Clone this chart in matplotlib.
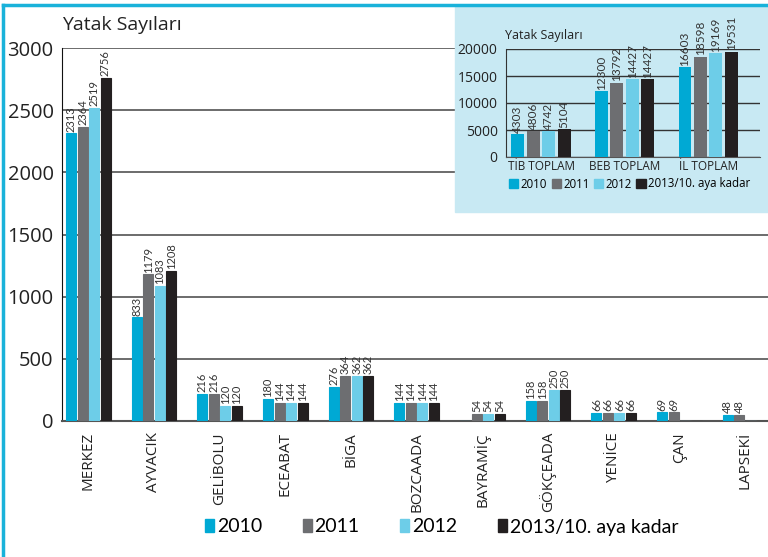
import matplotlib
matplotlib.use('Agg')
import matplotlib.pyplot as plt
from matplotlib import font_manager
from matplotlib.patches import Rectangle
from matplotlib.lines import Line2D
import numpy as np

# main chart data
districts = ['MERKEZ', 'AYVACIK', 'GELİBOLU', 'ECEABAT', 'BİGA', 'BOZCAADA',
             'BAYRAMİÇ', 'GÖKÇEADA', 'YENİCE', 'ÇAN', 'LAPSEKİ']
beds_2010 = [2313, 833, 216, 180, 276, 144, 0, 158, 66, 69, 48]
beds_2011 = [2364, 1179, 216, 144, 364, 144, 54, 158, 66, 69, 48]
beds_2012 = [2519, 1083, 120, 144, 362, 144, 54, 250, 66, 0, 0]
beds_2013 = [2756, 1208, 120, 144, 362, 144, 54, 250, 66, 0, 0]

# inset data
totals = ['TİB TOPLAM', 'BEB TOPLAM', 'İL TOPLAM']
tot_2010 = [4303, 12300, 16603]
tot_2011 = [4806, 13792, 18598]
tot_2012 = [4742, 14427, 19169]
tot_2013 = [5104, 14427, 19531]

years = ['2010', '2011', '2012', '2013/10. aya kadar']
colors = ['#00a9d4', '#6d6e71', '#6dcde8', '#231f20']

names = set(f.name for f in font_manager.fontManager.ttflist)
narrow = 'Lato' if 'Lato' in names else 'DejaVu Sans'
plain = 'Open Sans' if 'Open Sans' in names else 'DejaVu Sans'
plt.rcParams['font.family'] = [plain, 'DejaVu Sans']

fig = plt.figure(figsize=(7.68, 5.57), dpi=100)

# frame lines and inset background
fig.add_artist(Line2D([3/768, 3/768], [0, 1 - 5/557], color='#19b2da', lw=2.5,
                      transform=fig.transFigure, zorder=5))
fig.add_artist(Line2D([3/768, 1], [1 - 5/557, 1 - 5/557], color='#19b2da', lw=2.5,
                      transform=fig.transFigure, zorder=5))
fig.add_artist(Rectangle((455/768, 1 - 212/557), 1 - 455/768, (212 - 6)/557,
                         color='#c8e9f3', transform=fig.transFigure, zorder=1))

# ---- main chart ----
ax = fig.add_axes([62/768, 1 - 421/557, 1 - 62/768, (421 - 48)/557], zorder=0)
ax.set_facecolor('none')
x = np.arange(len(districts))
series = [beds_2010, beds_2011, beds_2012, beds_2013]
pitch = 0.175
w = 0.152
for i, vals in enumerate(series):
    xs = x + (i - 1.5) * pitch
    ax.bar(xs, vals, width=w, color=colors[i], edgecolor=colors[i], lw=0.8, zorder=3)
    for xx, v in zip(xs, vals):
        if v > 0:
            ax.text(xx, v + 15, str(v), rotation=90, ha='center', va='bottom',
                    fontsize=8, color='#333333', family=[narrow, 'DejaVu Sans'], zorder=4)
ax.set_ylim(0, 3000)
ax.set_xlim(-0.4, 10.35)
ax.set_yticks(range(0, 3001, 500))
ax.yaxis.grid(True, color='#444444', lw=1.1, zorder=1)
ax.set_xticks(x)
ax.set_xticklabels(districts, rotation=90)
ax.tick_params(axis='both', length=0, colors='#222222')
ax.tick_params(axis='x', labelsize=11, pad=8)
ax.tick_params(axis='y', labelsize=14.5, pad=6)
for s in ['top', 'right']:
    ax.spines[s].set_visible(False)
ax.spines['left'].set_color('#111111')
ax.spines['bottom'].set_color('#555555')
ax.spines['bottom'].set_linewidth(1.5)
fig.text(62/768, 1 - 25/557, 'Yatak Sayıları', fontsize=14, va='center', color='#222222')

handles = [Rectangle((0, 0), 1, 1, color=c) for c in colors]
fig.legend(handles, years, loc='center left', bbox_to_anchor=(205/768, 1 - 527/557), ncol=4,
           frameon=False, borderpad=0, borderaxespad=0, handlelength=0.45, handleheight=0.6,
           handletextpad=0.15, columnspacing=2.1,
           prop={'family': [narrow, 'DejaVu Sans'], 'size': 14})

# ---- inset ----
ia = fig.add_axes([506/768, 1 - 157/557, (760 - 506)/768, (157 - 49)/557], zorder=2)
ia.set_facecolor('none')
xi = np.arange(len(totals))
ipitch = 0.185
iw = 0.155
for i, vals in enumerate([tot_2010, tot_2011, tot_2012, tot_2013]):
    xs = xi + (i - 1.5) * ipitch
    ia.bar(xs, vals, width=iw, color=colors[i], zorder=3)
    for xx, v in zip(xs, vals):
        ia.text(xx, v + 200, str(v), rotation=90, ha='center', va='bottom',
                fontsize=8.5, color='#333333', family=[narrow, 'DejaVu Sans'], zorder=4)
ia.set_ylim(0, 20000)
ia.set_xlim(-0.42, 2.62)
ia.set_yticks(range(0, 20001, 5000))
ia.yaxis.grid(True, color='#333333', lw=1, zorder=1)
ia.set_xticks(xi)
ia.set_xticklabels(totals)
ia.tick_params(axis='both', length=0, colors='#222222')
ia.tick_params(axis='y', labelsize=10, pad=6)
ia.tick_params(axis='x', labelsize=8.5, pad=2)
for s in ['top', 'right']:
    ia.spines[s].set_visible(False)
ia.spines['left'].set_color('#333333')
ia.spines['bottom'].set_color('#555555')
fig.text(505/768, 1 - 35/557, 'Yatak Sayıları', fontsize=9, va='center', color='#222222')
ia.legend(handles, years, loc='center left', bbox_to_anchor=(509/768, 1 - 184/557),
          bbox_transform=fig.transFigure, ncol=4, frameon=False, borderpad=0, borderaxespad=0,
          handlelength=0.8, handleheight=0.8, handletextpad=0.2, columnspacing=0.4, fontsize=8.3)

fig.savefig('out.png', dpi=100)
